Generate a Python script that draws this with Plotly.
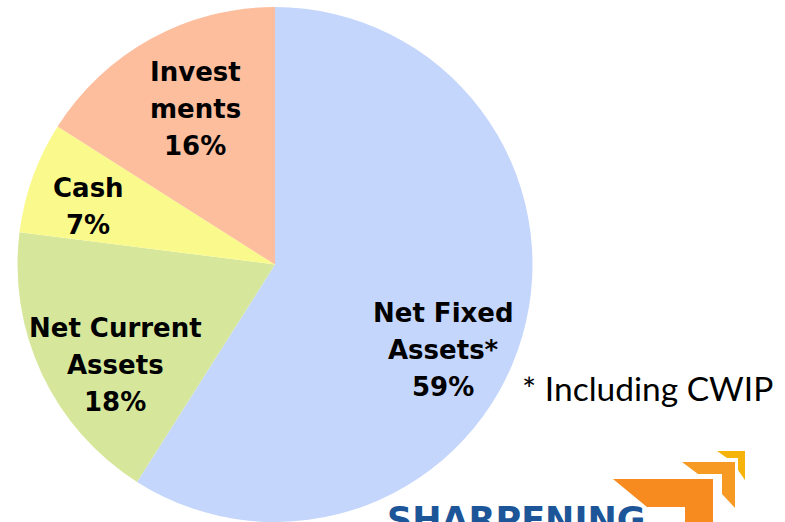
import plotly.graph_objects as go

# ---- data ----
categories = ["Net Fixed Assets*", "Net Current Assets", "Cash", "Investments"]
shares = [59, 18, 7, 16]
slice_colors = ["#C5D6FC", "#D6E79B", "#FAFA8C", "#FCBE9D"]
label_lines = [
    ["Net Fixed", "Assets*", "59%"],
    ["Net Current", "Assets", "18%"],
    ["Cash", "7%"],
    ["Invest", "ments", "16%"],
]
footnote = "* Including CWIP"
logo_text = "SHARPENING"

W, H = 785, 522


def px(x):
    return x / W


def py(y):
    return 1 - y / H


# label placement (pixel centres of first line) and line pitch
label_pos = [(443, 313), (115, 328), (88, 188), (195, 72)]
line_pitch = 37

fig = go.Figure(
    go.Pie(
        labels=categories,
        values=shares,
        sort=False,
        direction="clockwise",
        rotation=0,
        marker=dict(colors=slice_colors, line=dict(width=0)),
        textinfo="none",
        hoverinfo="label+percent",
        domain=dict(x=[px(17), px(533)], y=[0, py(7)]),
        showlegend=False,
    )
)

annotations = []
for lines, (cx, cy) in zip(label_lines, label_pos):
    for i, t in enumerate(lines):
        annotations.append(
            dict(
                text=t,
                x=px(cx),
                y=py(cy + i * line_pitch),
                xref="paper",
                yref="paper",
                xanchor="center",
                yanchor="middle",
                showarrow=False,
                font=dict(family="DejaVu Sans", size=26, color="black", weight="bold"),
            )
        )

annotations.append(
    dict(
        text=footnote,
        x=px(520),
        y=py(388),
        xref="paper",
        yref="paper",
        xanchor="left",
        yanchor="middle",
        showarrow=False,
        font=dict(family="Lato", size=33.5, color="black"),
    )
)

annotations.append(
    dict(
        text=logo_text,
        x=px(516),
        y=py(498),
        xref="paper",
        yref="paper",
        xanchor="center",
        yanchor="top",
        showarrow=False,
        font=dict(family="DejaVu Sans", size=35, color="#1D5698", weight="bold"),
    )
)


def path(points):
    s = "M " + " L ".join(f"{px(x):.5f},{py(y):.5f}" for x, y in points) + " Z"
    return s


shapes = [
    dict(type="path", xref="paper", yref="paper",
         path=path([(613, 479), (713, 479), (713, 522), (685, 522), (685, 507), (647, 507)]),
         fillcolor="#F78B1F", line=dict(width=0)),
    dict(type="path", xref="paper", yref="paper",
         path=path([(682, 462), (735, 462), (735, 508), (722, 494), (722, 474), (698, 474)]),
         fillcolor="#F79A24", line=dict(width=0)),
    dict(type="path", xref="paper", yref="paper",
         path=path([(717, 451), (745, 451), (745, 480), (738, 470), (738, 458), (727, 458)]),
         fillcolor="#F6B40A", line=dict(width=0)),
]

fig.update_layout(
    width=W,
    height=H,
    margin=dict(l=0, r=0, t=0, b=0),
    paper_bgcolor="white",
    plot_bgcolor="white",
    annotations=annotations,
    shapes=shapes,
)

fig.write_html(
    "out.html",
    config={"displayModeBar": False},
    post_script="document.body.style.margin='0';",
)
